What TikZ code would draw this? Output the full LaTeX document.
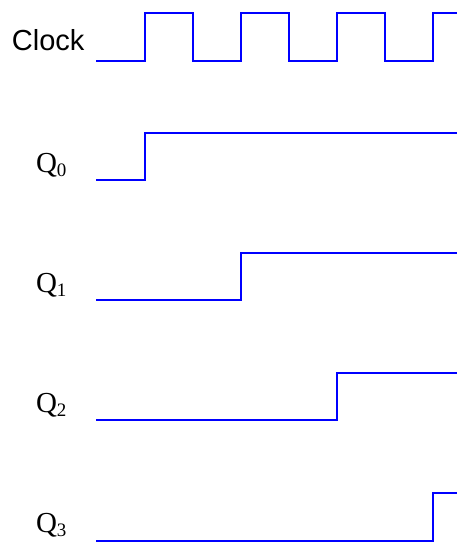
\documentclass[tikz,border=0pt]{standalone}
\usepackage{fontspec}
\setmainfont{Liberation Serif}
\newfontfamily\arialfont{Liberation Sans}
\newcommand{\qlab}[1]{\fontsize{29}{34}\selectfont Q\raisebox{-4.5pt}{\fontsize{19}{20}\selectfont #1}}
\begin{document}
\begin{tikzpicture}[x=1pt,y=-1pt,
  wave/.style={draw={rgb,255:red,0;green,0;blue,255},line width=2pt,line join=miter},
  lbl/.style={anchor=base west,inner sep=0pt,outer sep=0pt}]
\useasboundingbox (0,0) rectangle (462,560);
\node[lbl] (clk) at (12,50) {\arialfont\fontsize{29}{34}\selectfont Clock};
\node[lbl] (q0) at (36,172) {\qlab{0}};
\node[lbl] (q1) at (36,292) {\qlab{1}};
\node[lbl] (q2) at (36,412) {\qlab{2}};
\node[lbl] (q3) at (36,532) {\qlab{3}};
\draw[wave] (96,61) -- (145,61) -- (145,13) -- (193,13) -- (193,61) -- (241,61) -- (241,13) -- (289,13) -- (289,61) -- (337,61) -- (337,13) -- (385,13) -- (385,61) -- (433,61) -- (433,13) -- (457,13);
\draw[wave] (96,180) -- (145,180) -- (145,133) -- (457,133);
\draw[wave] (96,300) -- (241,300) -- (241,253) -- (457,253);
\draw[wave] (96,420) -- (337,420) -- (337,373) -- (457,373);
\draw[wave] (96,541) -- (433,541) -- (433,493) -- (457,493);
\end{tikzpicture}
\end{document}
